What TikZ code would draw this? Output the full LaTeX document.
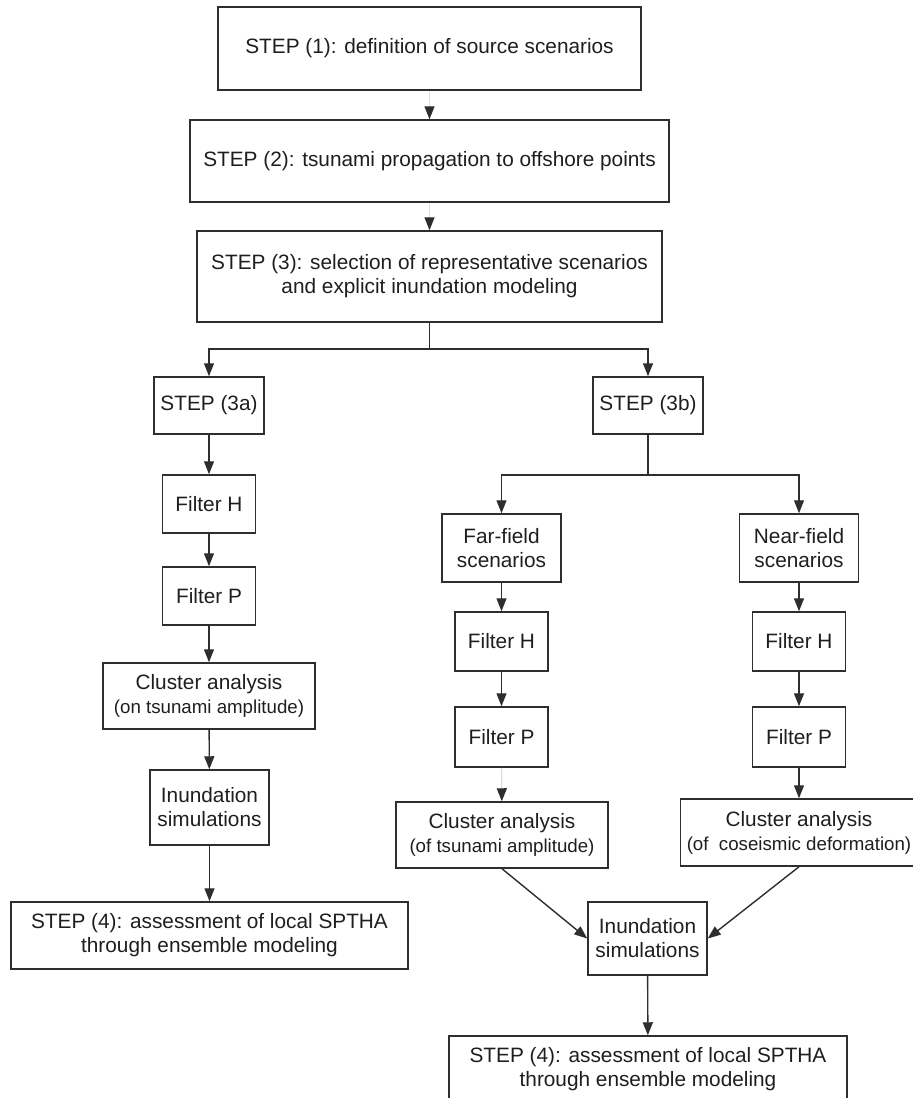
\documentclass[tikz,border=0pt]{standalone}
\usepackage{fontspec}
\setmainfont{Liberation Sans}
\usetikzlibrary{arrows.meta}
\definecolor{lnc}{HTML}{2E2E2E}
\definecolor{txc}{HTML}{1E1E1E}
\tikzset{
  box/.style={draw=lnc, line width=1.5pt, text=txc, align=center, inner sep=0pt,
              font=\fontsize{20.8}{24}\selectfont},
  arr/.style={draw=lnc, line width=1.4pt, -{Triangle[length=13pt,width=10pt]}},
  faint/.style={draw=black!13, line width=1.4pt, -{Triangle[length=13pt,width=10pt,color=lnc]}},
  plainln/.style={draw=lnc, line width=1.4pt},
}
\newcommand{\subl}[1]{{\fontsize{18.7}{22}\selectfont #1}}
\begin{document}
\begin{tikzpicture}[x=1pt,y=-1pt]
\useasboundingbox (0,0) rectangle (913,1098);
\clip (0,0) rectangle (913,1098);
% main column
\node[box, minimum width=423pt, minimum height=83pt] (b1) at (429.5,48.5) {STEP (1): definition of source scenarios};
\node[box, minimum width=479pt, minimum height=82pt] (b2) at (429.5,161) {STEP (2): tsunami propagation to offshore points};
\node[box, minimum width=465pt, minimum height=91pt] (b3) at (429.5,276.5) {STEP (3): selection of representative scenarios\\and explicit inundation modeling};
% 3a / 3b
\node[box, minimum width=110pt, minimum height=57pt] (b3a) at (209,405.5) {STEP (3a)};
\node[box, minimum width=110pt, minimum height=57pt] (b3b) at (648,405.5) {STEP (3b)};
% left column
\node[box, minimum width=93pt, minimum height=58pt] (lh) at (209,504) {Filter H};
\node[box, minimum width=93pt, minimum height=58pt] (lp) at (209,596) {Filter P};
\node[box, minimum width=212pt, minimum height=66pt] (lc) at (209,696) {Cluster analysis\\\subl{(on tsunami amplitude)}};
\node[box, minimum width=119pt, minimum height=75pt] (li) at (209.5,807.5) {Inundation\\simulations};
\node[box, minimum width=397pt, minimum height=67pt] (l4) at (209.5,935.5) {STEP (4): assessment of local SPTHA\\through ensemble modeling};
% middle column
\node[box, minimum width=119pt, minimum height=68pt] (mf) at (501.5,548) {Far-field\\scenarios};
\node[box, minimum width=93pt, minimum height=59pt] (mh) at (501.5,641.5) {Filter H};
\node[box, minimum width=93pt, minimum height=60pt] (mp) at (501.5,737) {Filter P};
\node[box, minimum width=212pt, minimum height=66pt] (mc) at (502,835) {Cluster analysis\\\subl{(of tsunami amplitude)}};
% right column
\node[box, minimum width=119pt, minimum height=68pt] (rf) at (799,548) {Near-field\\scenarios};
\node[box, minimum width=93pt, minimum height=59pt] (rh) at (799,641.5) {Filter H};
\node[box, minimum width=93pt, minimum height=60pt] (rp) at (799,737) {Filter P};
\node[box, minimum width=237pt, minimum height=67pt] (rc) at (799,832.5) {Cluster analysis\\\subl{(of\ \ coseismic deformation)}};
% bottom
\node[box, minimum width=119pt, minimum height=73pt] (mi) at (647.5,938.5) {Inundation\\simulations};
\node[box, minimum width=398pt, minimum height=67pt] (m4) at (648,1069.5) {STEP (4): assessment of local SPTHA\\through ensemble modeling};
% split points
\coordinate (s1) at (429.5,349);
\coordinate (s2) at (648,475);
% connectors
\draw[faint] (b1) -- (b2);
\draw[faint] (b2) -- (b3);
\draw[plainln] (b3.south) -- (s1);
\draw[arr] (s1) -| (b3a.north);
\draw[arr] (s1) -| (b3b.north);
\draw[arr] (b3a) -- (lh);
\draw[arr] (lh) -- (lp);
\draw[arr] (lp) -- (lc);
\draw[arr] (lc) -- (li);
\draw[arr] (li) -- (l4);
\draw[plainln] (b3b.south) -- (s2);
\draw[arr] (s2) -| (mf.north);
\draw[arr] (s2) -| (rf.north);
\draw[arr] (mf) -- (mh);
\draw[arr] (mh) -- (mp);
\draw[faint] (mp) -- (mc);
\draw[arr] (rf) -- (rh);
\draw[arr] (rh) -- (rp);
\draw[arr] (rp) -- (rc);
\draw[arr] (mc.south) -- (mi.west);
\draw[arr] (rc.south) -- (mi.east);
\draw[arr] (mi) -- (m4);
\end{tikzpicture}
\end{document}
